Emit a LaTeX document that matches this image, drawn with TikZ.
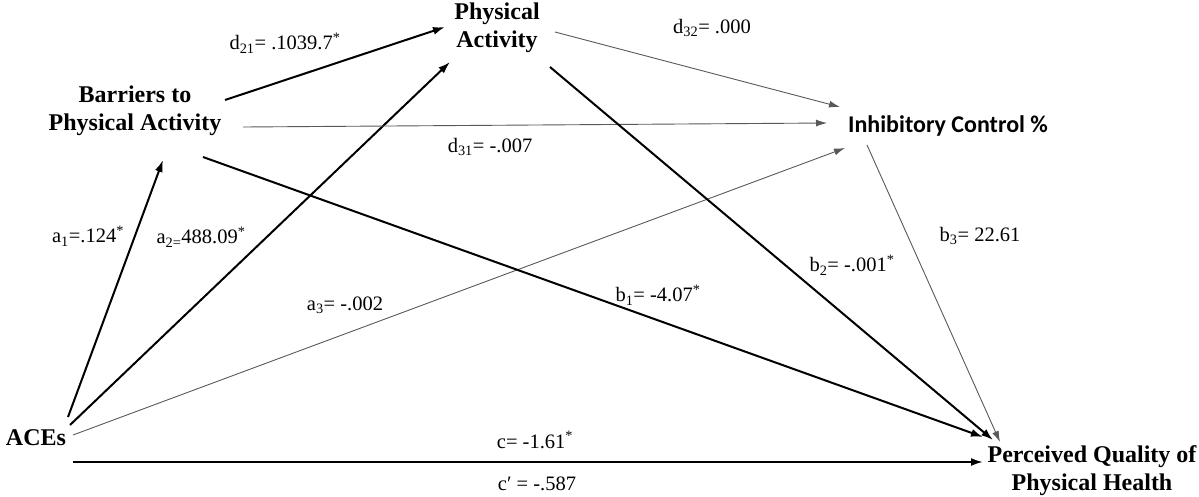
\documentclass[tikz,border=0pt]{standalone}
\usepackage{fontspec}
\setmainfont{Liberation Serif}
\newfontfamily\carlito{Carlito}
\usetikzlibrary{arrows.meta}
\begin{document}
\begin{tikzpicture}[x=1pt,y=-1pt,
  var/.style={inner sep=0pt,align=center,font=\fontsize{24}{28}\selectfont\bfseries},
  lab/.style={inner sep=0pt,font=\fontsize{20.5}{24}\selectfont},
  strong/.style={line width=2pt,-{Latex[length=12pt,width=8pt]}},
  weak/.style={line width=0.9pt,black!65,-{Latex[length=11pt,width=7pt]}}]
\useasboundingbox (0,0) rectangle (1199,496);
% variables
\node[var] (bar) at (135,111) {Barriers to\\Physical Activity};
\node[var] (pa) at (497,28) {Physical\\Activity};
\node[var,font=\fontsize{24}{28}\selectfont\carlito\bfseries] (ic) at (948,126) {Inhibitory Control \%};
\node[var] (aces) at (36,438) {ACEs};
\node[var] (pq) at (1092,471) {Perceived Quality of\\Physical Health};
% paths
\draw[strong] ([shift={(32,-21)}]aces.center) -- ([shift={(28,49)}]bar.center);
\draw[strong] ([shift={(34,-13)}]aces.center) -- ([shift={(-47,34)}]pa.center);
\draw[weak] ([shift={(37,-3)}]aces.center) -- ([shift={(-103,22)}]ic.center);
\draw[strong] ([shift={(37,24)}]aces.center) -- ([shift={(-109,-9)}]pq.center);
\draw[strong] ([shift={(90,-11)}]bar.center) -- ([shift={(-52,-1)}]pa.center);
\draw[weak] ([shift={(108,16)}]bar.center) -- ([shift={(-121,-3)}]ic.center);
\draw[strong] ([shift={(68,46)}]bar.center) -- ([shift={(-109,-34)}]pq.center);
\draw[weak] ([shift={(58,4)}]pa.center) -- ([shift={(-108,-19)}]ic.center);
\draw[strong] ([shift={(53,39)}]pa.center) -- ([shift={(-99,-31)}]pq.center);
\draw[weak] ([shift={(-81,19)}]ic.center) -- ([shift={(-92,-29)}]pq.center);
% labels
\node[lab] (ld21) at (285,43) {d\textsubscript{21}= .1039.7\textsuperscript{*}};
\node[lab] (ld32) at (712,28) {d\textsubscript{32}= .000};
\node[lab] (ld31) at (490,147) {d\textsubscript{31}= -.007};
\node[lab] (la1) at (88,236) {a\textsubscript{1}=.124\textsuperscript{*}};
\node[lab] (la2) at (201,237) {a\textsubscript{2=}488.09\textsuperscript{*}};
\node[lab] (la3) at (345,305) {a\textsubscript{3}= -.002};
\node[lab] (lb3) at (980,236) {b\textsubscript{3}= 22.61};
\node[lab] (lb2) at (852,265) {b\textsubscript{2}= -.001\textsuperscript{*}};
\node[lab] (lb1) at (658,295) {b\textsubscript{1}= -4.07\textsuperscript{*}};
\node[lab] (lc) at (535,440) {c= -1.61\textsuperscript{*}};
\node[lab] (lcp) at (537,484) {c′ = -.587};
\end{tikzpicture}
\end{document}
